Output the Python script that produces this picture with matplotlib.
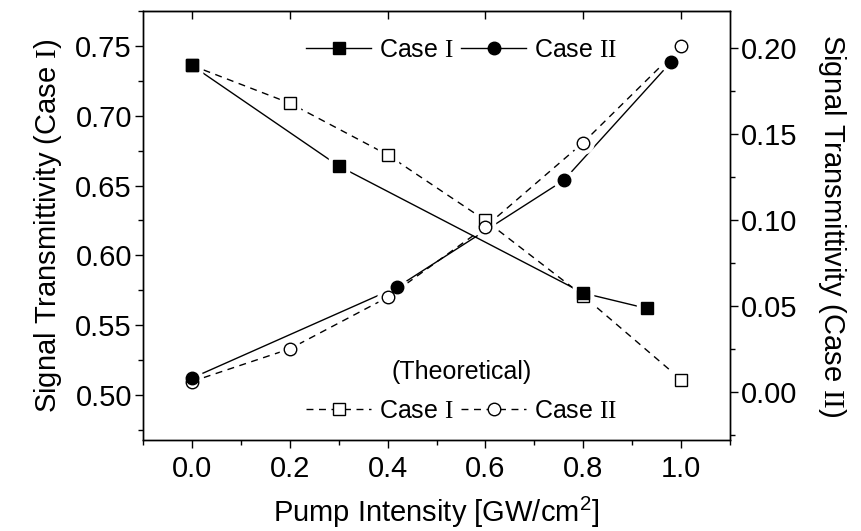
import matplotlib
matplotlib.use("Agg")
import matplotlib.pyplot as plt
from matplotlib.ticker import MultipleLocator
from matplotlib.lines import Line2D

plt.rcParams['font.family'] = ['Liberation Sans', 'DejaVu Sans']
plt.rcParams['mathtext.fontset'] = 'custom'
plt.rcParams['mathtext.rm'] = 'Liberation Serif'
plt.rcParams['mathtext.sf'] = 'Liberation Sans'

# measured points (filled markers)
exp1_x = [0.0, 0.30, 0.80, 0.93]
exp1_y = [0.736, 0.664, 0.573, 0.562]
exp2_x = [0.0, 0.42, 0.76, 0.98]
exp2_y = [0.008, 0.061, 0.123, 0.192]

# theoretical curves (open markers)
theo_x = [0.0, 0.2, 0.4, 0.6, 0.8, 1.0]
theo1_y = [0.736, 0.709, 0.672, 0.625, 0.571, 0.511]
theo2_y = [0.006, 0.025, 0.055, 0.096, 0.145, 0.201]

lab1 = r'Case $\mathrm{I}$'
lab2 = r'Case $\mathrm{II}$'

fig = plt.figure(figsize=(8.61, 5.31), dpi=100)
ax = fig.add_axes([0.1661, 0.1714, 0.6818, 0.8079])
ax2 = ax.twinx()

ax.set_xlim(-0.1, 1.1)
ax.set_ylim(0.4678, 0.775)
ax2.set_ylim(-0.028, 0.2215)

dash = (0, (5, 4))
ms = 9
tr1 = ax.transData
tr2 = ax2.transData   # case II is drawn in the right-axis scale

series = [
    (theo_x, theo1_y, tr1, dash, 's', 'white', 3),
    (theo_x, theo2_y, tr2, dash, 'o', 'white', 3),
    (exp1_x, exp1_y, tr1, '-', 's', 'k', 4),
    (exp2_x, exp2_y, tr2, '-', 'o', 'k', 4),
]
for x, y, tr, ls, mk, fc, z in series:
    ax.plot(x, y, ls=ls, lw=1, color='k', transform=tr, zorder=1)
    # white halo so the line stops short of the symbol
    ax.plot(x, y, ls='none', marker=mk, ms=ms + 6, mfc='white', mec='white',
            transform=tr, zorder=2)
    ax.plot(x, y, ls='none', marker=mk, ms=ms, mfc=fc, mec='k', mew=1,
            transform=tr, zorder=z)

ax.xaxis.set_major_locator(MultipleLocator(0.2))
ax.xaxis.set_minor_locator(MultipleLocator(0.1))
ax.yaxis.set_major_locator(MultipleLocator(0.05))
ax.yaxis.set_minor_locator(MultipleLocator(0.025))
ax2.yaxis.set_major_locator(MultipleLocator(0.05))
ax2.yaxis.set_minor_locator(MultipleLocator(0.025))
ax.xaxis.set_major_formatter(lambda v, p: '%.1f' % v)
ax.yaxis.set_major_formatter(lambda v, p: '%.2f' % v)
ax2.yaxis.set_major_formatter(lambda v, p: '%.2f' % v)

for a in (ax, ax2):
    a.tick_params(which='major', direction='out', length=6, width=1,
                  labelsize=21, pad=2)
    a.tick_params(which='minor', direction='out', length=3.5, width=1)
    for s in a.spines.values():
        s.set_linewidth(1)
ax.tick_params(axis='x', pad=5)

top = ax.secondary_xaxis('top')
top.xaxis.set_major_locator(MultipleLocator(0.2))
top.tick_params(direction='in', length=6, width=1, labeltop=False)

ax.set_xlabel(r'Pump Intensity [GW/cm$^{\mathsf{2}}$]', fontsize=21, labelpad=8)
ax.set_ylabel('Signal Transmittivity (' + lab1 + ')', fontsize=21, labelpad=8)
ax2.set_ylabel('Signal Transmittivity (' + lab2 + ')', fontsize=21,
               rotation=270, labelpad=36)

h_exp = [Line2D([], [], color='k', lw=1, marker='s', ms=ms, mfc='k'),
         Line2D([], [], color='k', lw=1, marker='o', ms=ms, mfc='k')]
h_theo = [Line2D([], [], color='k', lw=1, ls=dash, marker='s', ms=ms,
                 mfc='white', mec='k'),
          Line2D([], [], color='k', lw=1, ls=dash, marker='o', ms=ms,
                 mfc='white', mec='k')]

leg1 = ax2.legend(h_exp, [lab1, lab2], ncol=2, frameon=False, fontsize=18,
                  loc='center', bbox_to_anchor=(0.542, 0.91),
                  handlelength=2.6, handletextpad=0.3, columnspacing=0.3,
                  borderpad=0, borderaxespad=0)
ax2.add_artist(leg1)
leg2 = ax2.legend(h_theo, [lab1, lab2], ncol=2, frameon=False, fontsize=18,
                  title='(Theoretical)', title_fontsize=18,
                  loc='center', bbox_to_anchor=(0.542, 0.114),
                  handlelength=2.6, handletextpad=0.3, columnspacing=0.3,
                  borderpad=0, borderaxespad=0, labelspacing=0.6)

fig.savefig('out.png', dpi=100)
